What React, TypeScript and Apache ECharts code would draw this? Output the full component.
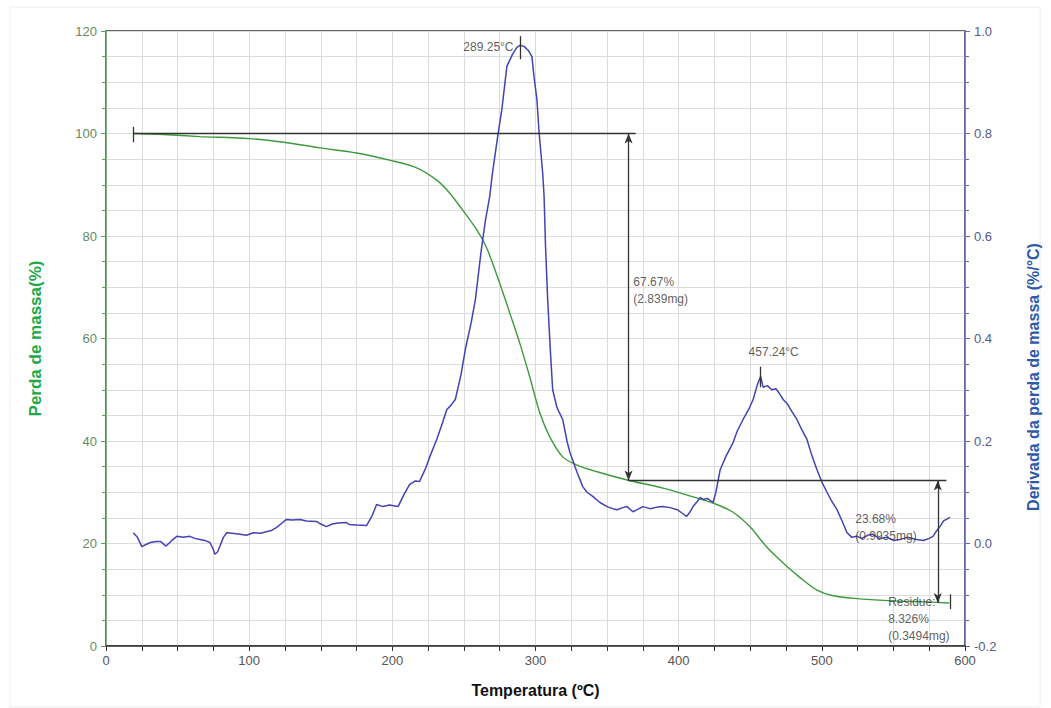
import React, { useEffect, useRef } from "react";
import * as echarts from "echarts";

// TG curve (mass loss, %) vs temperature (°C)
const tgTemp = [19, 40, 65.7, 100, 124, 149.5, 175, 198, 217, 231, 240, 249, 259, 266, 275, 282, 289, 296, 303, 310, 319, 329, 343, 364, 389, 410, 424, 438, 450, 461.5, 473, 485, 496.6, 508, 526.6, 550, 573, 589];
const tgMass = [100, 99.8, 99.4, 99.0, 98.3, 97.2, 96.2, 94.8, 93.3, 90.9, 88.4, 85.1, 81.2, 77.6, 70.8, 65, 59.1, 52.5, 45.5, 40.8, 36.9, 35.3, 34, 32.4, 30.8, 29.1, 27.9, 26.1, 23.2, 19.3, 16.2, 13.3, 10.9, 9.8, 9.2, 8.8, 8.6, 8.4];

// DTG curve (derivative of mass loss, %/°C) vs temperature (°C)
const dtgTemp = [19, 22, 25, 28, 31, 35, 38, 42, 46, 49.5, 54, 58.6, 62, 65.7, 69, 72.6, 75, 76, 78, 79.6, 82, 84.3, 88, 93.6, 98, 103, 108, 112, 116, 119, 123, 126, 130, 135.5, 140, 147, 150, 154, 158, 162, 168, 170, 175, 182, 186, 189, 193.5, 198, 204, 208, 212, 216, 219, 223, 226, 231, 235, 238, 241, 244, 248, 251, 255, 258, 262, 265, 268, 270, 274, 276.5, 280, 284, 287, 289.25, 292, 295, 297.5, 299, 301, 302.5, 305, 306, 307, 308.5, 310.5, 312, 315, 319, 322, 324, 329, 333, 336, 340, 345, 350, 354, 357, 361, 364, 368, 371, 375, 380, 385, 389, 394, 399, 402, 405.6, 408, 410, 413, 415, 417, 420, 424, 426, 429, 433, 438, 441, 445, 449, 452, 455, 457.24, 459, 462, 465, 468, 471, 473, 476, 479, 482.6, 486, 489.6, 493, 496.6, 500, 503.6, 507, 510.6, 514, 517.6, 521, 524.5, 528, 532, 535.7, 540, 545.5, 550, 554.6, 560, 566, 571, 575, 577.6, 580, 582.5, 585, 587, 589.5];
const dtgValue = [0.021, 0.012, -0.006, -0.002, 0.002, 0.004, 0.004, -0.005, 0.006, 0.014, 0.012, 0.014, 0.01, 0.008, 0.006, 0.002, -0.012, -0.021, -0.016, -0.005, 0.012, 0.021, 0.02, 0.018, 0.016, 0.021, 0.02, 0.023, 0.026, 0.031, 0.04, 0.047, 0.046, 0.047, 0.044, 0.043, 0.038, 0.033, 0.038, 0.04, 0.041, 0.037, 0.036, 0.035, 0.055, 0.076, 0.072, 0.075, 0.072, 0.095, 0.115, 0.122, 0.121, 0.145, 0.168, 0.203, 0.235, 0.261, 0.27, 0.281, 0.33, 0.379, 0.43, 0.476, 0.57, 0.63, 0.677, 0.724, 0.802, 0.847, 0.931, 0.955, 0.968, 0.972, 0.97, 0.962, 0.95, 0.91, 0.866, 0.802, 0.724, 0.677, 0.58, 0.476, 0.37, 0.3, 0.265, 0.242, 0.2, 0.178, 0.139, 0.111, 0.1, 0.092, 0.08, 0.072, 0.068, 0.066, 0.07, 0.072, 0.062, 0.066, 0.072, 0.068, 0.071, 0.072, 0.07, 0.066, 0.06, 0.053, 0.062, 0.072, 0.082, 0.09, 0.086, 0.088, 0.08, 0.1, 0.144, 0.17, 0.197, 0.22, 0.242, 0.262, 0.281, 0.31, 0.326, 0.305, 0.308, 0.3, 0.302, 0.29, 0.281, 0.272, 0.258, 0.242, 0.222, 0.203, 0.172, 0.144, 0.12, 0.1, 0.082, 0.066, 0.045, 0.021, 0.012, 0.014, 0.01, 0.016, 0.018, 0.01, 0.012, 0.006, 0.008, 0.012, 0.008, 0.006, 0.01, 0.014, 0.024, 0.033, 0.044, 0.047, 0.051];

// Step annotations (left axis units)
const stepStartTemp = 19;
const step1Temp = 365;
const step1LineEnd = 370;
const step2Temp = 581;
const step2LineEnd = 587;
const residueTemp = 589.5;
const massStart = 100;
const massStep1 = 32.3;
const massResidue = 8.4;

// Peak markers (right axis)
const peak1Temp = 289.25;
const peak2Temp = 457.24;

// Texts: [x, y(left axis), text, side]
const annotationX = [285, 368, 448.5, 523, 546];
const annotationY = [116.9, 69.3, 57.4, 23.2, 5.3];
const annotationText = [
  "289.25°C",
  "67.67%\n(2.839mg)",
  "457.24°C",
  "23.68%\n(0.9935mg)",
  "Residue:\n8.326%\n(0.3494mg)",
];
const annotationSide = ["left", "right", "right", "right", "right"];

const xTicks = { min: 0, max: 600, interval: 100 };
const leftTicks = { min: 0, max: 120, interval: 20 };
const rightTicks = { min: -0.2, max: 1.0, interval: 0.2 };

const FONT = "'Liberation Sans', Arial, sans-serif";

export default function App() {
  const ref = useRef<HTMLDivElement>(null);
  useEffect(() => {
    document.body.style.margin = "0";
    const chart = echarts.init(ref.current!, null, { renderer: "svg" });
    const tgData = tgTemp.map((t, i) => [t, tgMass[i]]);
    const dtgData = dtgTemp.map((t, i) => [t, dtgValue[i]]);
    const labelData = annotationX.map((x, i) => ({
      value: [x, annotationY[i]],
      label: {
        show: true,
        formatter: annotationText[i],
        position: annotationSide[i],
        distance: 0,
      },
    }));
    const plain = (a: number[], b: number[]) => [
      { coord: a, symbol: "none" },
      { coord: b, symbol: "none" },
    ];
    const arrow = (a: number[], b: number[]) => [
      { coord: a, symbol: "arrow" },
      { coord: b, symbol: "arrow" },
    ];
    const gridColor = "#dcdcdc";
    chart.setOption({
      animation: false,
      backgroundColor: "#ffffff",
      grid: {
        left: 106,
        right: 86,
        top: 31,
        bottom: 62,
        show: true,
        borderColor: "#333",
        borderWidth: 1.5,
        backgroundColor: "transparent",
      },
      graphic: [
        {
          type: "rect",
          shape: { x: 10, y: 7, width: 1030, height: 700 },
          style: { fill: "none", stroke: "#eeeeee", lineWidth: 1 },
          silent: true,
          z: -10,
        },
        {
          type: "text",
          x: 1033,
          y: 377,
          rotation: Math.PI / 2,
          style: {
            text: "Derivada da perda de massa (%/°C)",
            fill: "#2f5aa8",
            font: "bold 16px " + FONT,
            align: "center",
            verticalAlign: "middle",
          },
        },
      ],
      xAxis: {
        type: "value",
        ...xTicks,
        name: "Temperatura (ºC)",
        nameLocation: "middle",
        nameGap: 36,
        nameTextStyle: { color: "#111", fontSize: 16, fontWeight: "bold", fontFamily: FONT },
        axisLine: { show: true, lineStyle: { color: "#333", width: 1.5 } },
        axisTick: { show: true, length: 5, lineStyle: { color: "#333" } },
        minorTick: { show: true, splitNumber: 4, length: 5, lineStyle: { color: "#333" } },
        axisLabel: { color: "#555", fontSize: 13, fontFamily: FONT, margin: 8 },
        splitLine: { show: true, lineStyle: { color: gridColor, width: 1 } },
        minorSplitLine: { show: true, lineStyle: { color: gridColor, width: 1 } },
      },
      yAxis: [
        {
          type: "value",
          position: "left",
          ...leftTicks,
          name: "Perda de massa(%)",
          nameLocation: "middle",
          nameGap: 62,
          nameTextStyle: { color: "#20a848", fontSize: 17, fontWeight: "bold", fontFamily: FONT },
          axisLine: { show: true, lineStyle: { color: "#5f9a5f", width: 1.5 } },
          axisTick: { show: true, length: 5, lineStyle: { color: "#5f9a5f" } },
          minorTick: { show: true, splitNumber: 4, length: 4, lineStyle: { color: "#5f9a5f" } },
          axisLabel: { color: "#648a64", fontSize: 13, fontFamily: FONT, margin: 9 },
          splitLine: { show: true, lineStyle: { color: gridColor, width: 1 } },
          minorSplitLine: { show: true, lineStyle: { color: gridColor, width: 1 } },
        },
        {
          type: "value",
          position: "right",
          ...rightTicks,
          axisLine: { show: true, lineStyle: { color: "#6666b8", width: 1.5 } },
          axisTick: { show: true, length: 5, lineStyle: { color: "#6666b8" } },
          minorTick: { show: true, splitNumber: 4, length: 4, lineStyle: { color: "#6666b8" } },
          axisLabel: {
            color: "#58588f",
            fontSize: 13,
            fontFamily: FONT,
            margin: 9,
            formatter: (v: number) => v.toFixed(1),
          },
          splitLine: { show: false },
        },
      ],
      series: [
        {
          type: "line",
          name: "TG",
          xAxisIndex: 0,
          yAxisIndex: 0,
          data: tgData,
          showSymbol: false,
          smooth: 0.3,
          lineStyle: { color: "#3c9a3c", width: 1.4 },
          z: 3,
          markLine: {
            silent: true,
            animation: false,
            symbolSize: [6, 10],
            label: { show: false },
            lineStyle: { color: "#333", type: "solid", width: 1.3 },
            data: [
              plain([stepStartTemp, massStart], [step1LineEnd, massStart]),
              plain([stepStartTemp, 101.3], [stepStartTemp, 98.3]),
              arrow([step1Temp, massStart], [step1Temp, massStep1]),
              plain([step1Temp, massStep1], [step2LineEnd, massStep1]),
              arrow([step2Temp, massStep1], [step2Temp, massResidue]),
              plain([residueTemp, 10.1], [residueTemp, 7.2]),
            ],
          },
        },
        {
          type: "line",
          name: "DTG",
          xAxisIndex: 0,
          yAxisIndex: 1,
          data: dtgData,
          showSymbol: false,
          lineStyle: { color: "#4343b3", width: 1.5 },
          z: 4,
          markLine: {
            silent: true,
            animation: false,
            label: { show: false },
            lineStyle: { color: "#333", type: "solid", width: 1.3 },
            data: [
              plain([peak1Temp, 0.99], [peak1Temp, 0.945]),
              plain([peak2Temp, 0.345], [peak2Temp, 0.305]),
            ],
          },
        },
        {
          type: "scatter",
          name: "labels",
          xAxisIndex: 0,
          yAxisIndex: 0,
          symbolSize: 1,
          itemStyle: { color: "rgba(0,0,0,0)" },
          silent: true,
          z: 6,
          label: {
            show: true,
            color: "#333",
            fontSize: 12,
            fontFamily: FONT,
            lineHeight: 17,
          },
          data: labelData,
        },
      ],
    });
    return () => chart.dispose();
  }, []);
  return <div ref={ref} style={{ width: 1051, height: 708 }} />;
}
